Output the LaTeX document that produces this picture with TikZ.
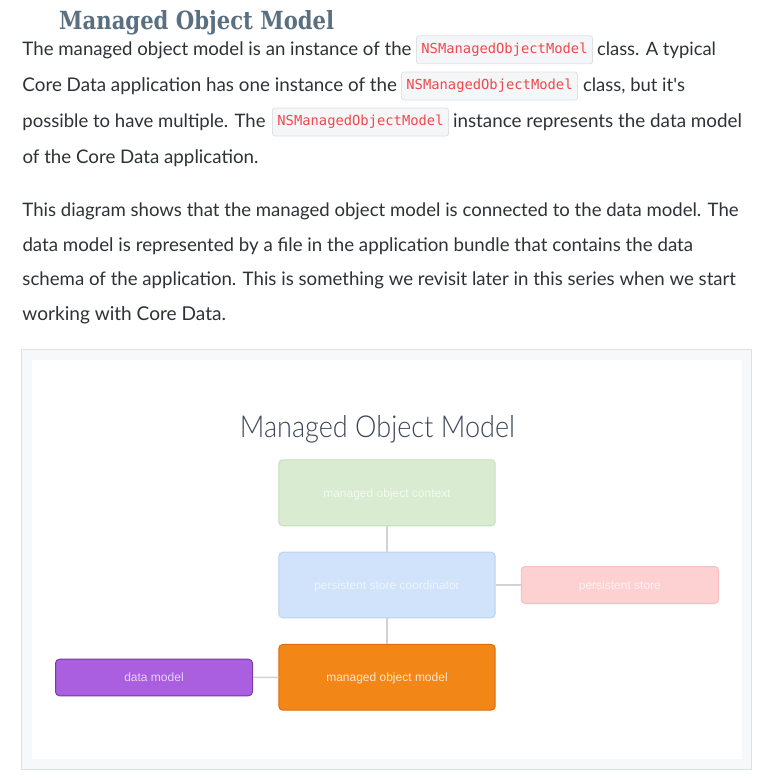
\documentclass[tikz,border=0pt]{standalone}
\usepackage{fontspec}
\usepackage{graphicx}
\setmainfont{Lato}
\newfontfamily\latoraw{Lato}
\newfontfamily\slabfont{DejaVu Serif}
\newfontfamily\boxfont{Liberation Sans}
\newfontfamily\codefont{DejaVu Sans Mono}
\newfontfamily\thinfont{Lato Light}
\definecolor{bodytext}{HTML}{2E3236}
\definecolor{headc}{HTML}{5A6F7F}
\definecolor{codebg}{HTML}{F5F6F7}
\definecolor{codeborder}{HTML}{DFE2E5}
\definecolor{codetext}{HTML}{EE4A4C}
\definecolor{frameborder}{HTML}{DCE1E6}
\definecolor{framebg}{HTML}{F7F8F9}
\definecolor{dtitle}{HTML}{3C4858}
\definecolor{connc}{HTML}{D2D2D2}
\definecolor{greenfill}{HTML}{D9EBD0}
\definecolor{greenline}{HTML}{C6E0BA}
\definecolor{greentext}{HTML}{F4FAF1}
\definecolor{bluefill}{HTML}{D0E3FB}
\definecolor{blueline}{HTML}{B9D3F2}
\definecolor{bluetext}{HTML}{EEF5FE}
\definecolor{pinkfill}{HTML}{FDD1D1}
\definecolor{pinkline}{HTML}{F6BFBF}
\definecolor{pinktext}{HTML}{FFF2F2}
\definecolor{orangefill}{HTML}{F28717}
\definecolor{orangeline}{HTML}{DE6B0E}
\definecolor{orangetext}{HTML}{FDE6CE}
\definecolor{purplefill}{HTML}{A95FDF}
\definecolor{purpleline}{HTML}{7A3AA5}
\definecolor{purpletext}{HTML}{E6D3F5}
\newcommand\fw[2]{\resizebox{#1pt}{!}{#2}}
\tikzset{
  bodyline/.style={anchor=base west, inner sep=0pt, outer sep=0pt, text=bodytext, font=\fontsize{17}{20}\selectfont},
  codebox/.style={draw=codeborder, fill=codebg, rounded corners=2.5pt, line width=0.8pt,
    minimum width=176pt, minimum height=28pt, inner sep=0pt, text=codetext,
    font=\codefont\fontsize{13.8}{16}\selectfont},
  dbox/.style={rounded corners=4pt, line width=1pt, inner sep=0pt, text height=8.6pt, text depth=0pt,
    font=\boxfont\fontsize{12}{14}\selectfont},
  conn/.style={draw=connc, line width=1.5pt}
}
\begin{document}
\begin{tikzpicture}[x=1pt,y=-1pt]
\useasboundingbox (0,0) rectangle (765,779);
\fill[white] (0,0) rectangle (765,779);
% heading
\node[anchor=base west, inner sep=0pt, text=headc] (head) at (59,29)
  {\resizebox{275pt}{19pt}{\slabfont\bfseries Managed Object Model}};
% paragraph 1
\node[bodyline] (p1a) at (22.5,55.5) {\fw{389}{The managed object model is an instance of the}};
\node[codebox] (c1) at (504.5,49.8) {NSManagedObjectModel};
\node[bodyline] (p1b) at (597,55.5) {\fw{119}{class. A typical}};
\node[bodyline] (p2a) at (22.5,91.8) {\fw{374.5}{Core Data application has one instance of the}};
\node[codebox] (c2) at (489.5,86) {NSManagedObjectModel};
\node[bodyline] (p2b) at (583,91.8) {\fw{102}{class, but it{\latoraw'}s}};
\node[bodyline] (p3a) at (22.5,127.5) {\fw{243}{possible to have multiple. The}};
\node[codebox] (c3) at (360.5,122) {NSManagedObjectModel};
\node[bodyline] (p3b) at (453,127.5) {\fw{289}{instance represents the data model}};
\node[bodyline] (p4) at (22.5,163.3) {\fw{236}{of the Core Data application.}};
% paragraph 2
\node[bodyline] (q1) at (22.5,216.5) {\fw{716}{This diagram shows that the managed object model is connected to the data model. The}};
\node[bodyline] (q2) at (22.5,251.2) {\fw{670.5}{data model is represented by a file in the application bundle that contains the data}};
\node[bodyline] (q3) at (22.5,285.8) {\fw{713.5}{schema of the application. This is something we revisit later in this series when we start}};
\node[bodyline] (q4) at (22.5,320.5) {\fw{203.5}{working with Core Data.}};
% frame
\draw[draw=frameborder, fill=framebg, line width=1pt] (21.5,349.5) rectangle (751.5,769.5);
\fill[white] (32,360) rectangle (742,759);
% diagram title
\node[anchor=base, inner sep=0pt, text=dtitle] (dtitle) at (377.5,437)
  {\resizebox{275pt}{22pt}{\thinfont\fontsize{30}{34}\selectfont Managed Object Model}};
% boxes
\node[dbox, draw=greenline, fill=greenfill, text=greentext, minimum width=216.4pt, minimum height=66pt] (ctx) at (387,492.8) {managed object context};
\node[dbox, draw=blueline, fill=bluefill, text=bluetext, minimum width=216.4pt, minimum height=65.6pt] (psc) at (387,585) {persistent store coordinator};
\node[dbox, draw=pinkline, fill=pinkfill, text=pinktext, minimum width=197.3pt, minimum height=37pt] (ps) at (619.9,585) {persistent store};
\node[dbox, draw=orangeline, fill=orangefill, text=orangetext, minimum width=216.4pt, minimum height=65.7pt] (mom) at (387,677.3) {managed object model};
\node[dbox, draw=purpleline, fill=purplefill, text=purpletext, minimum width=197pt, minimum height=36.6pt] (dm) at (154,677.5) {data model};
% connectors
\draw[conn] (ctx.south) -- (psc.north);
\draw[conn] (psc.east) -- (ps.west);
\draw[conn] (psc.south) -- (mom.north);
\draw[conn] (dm.east) -- (mom.west);
\end{tikzpicture}
\end{document}
